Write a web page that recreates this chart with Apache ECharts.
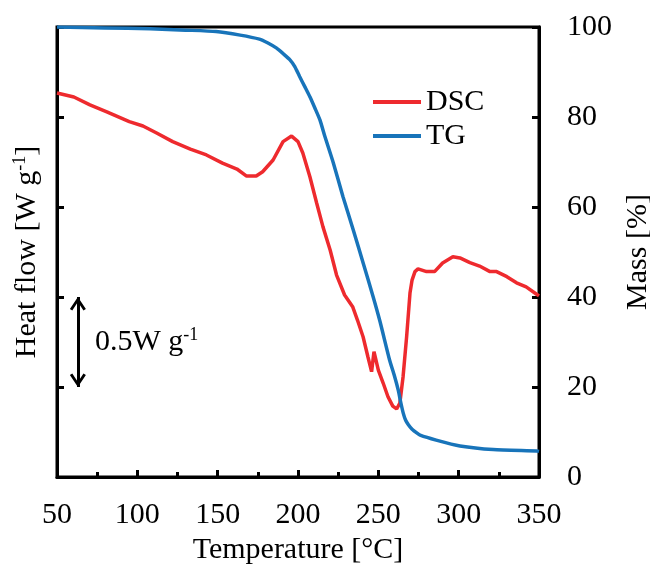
<!DOCTYPE html>
<html>
<head>
<meta charset="utf-8">
<script src="https://cdn.jsdelivr.net/npm/echarts@6/dist/echarts.min.js"></script>
<style>
html,body{margin:0;padding:0;background:#fff;}
#c{width:650px;height:567px;}
</style>
</head>
<body>
<div id="c"></div>
<script>
var dscTemp = [50, 60.5, 70.5, 81, 95, 103.5, 112, 122, 133, 143, 153, 162, 168, 174, 178, 184.5, 190.7, 196, 200, 203, 207.4, 211.6, 215.5, 220, 224, 229, 234, 237, 240.5, 243.5, 245.8, 247.3, 250, 253, 256, 259, 261.4, 263.4, 265.4, 267.6, 269.7, 271, 272.8, 274.7, 280, 285, 290, 296.4, 300.8, 307, 313, 319.5, 323.6, 330, 336, 342, 348.5, 350];
var dscHeat = [2.133, 2.111, 2.067, 2.029, 1.974, 1.950, 1.911, 1.863, 1.822, 1.789, 1.744, 1.711, 1.672, 1.672, 1.696, 1.761, 1.863, 1.894, 1.863, 1.800, 1.668, 1.522, 1.391, 1.261, 1.122, 1.011, 0.946, 0.872, 0.779, 0.668, 0.585, 0.696, 0.594, 0.522, 0.446, 0.394, 0.378, 0.411, 0.557, 0.779, 1.022, 1.094, 1.141, 1.156, 1.141, 1.141, 1.189, 1.224, 1.217, 1.191, 1.172, 1.141, 1.141, 1.113, 1.079, 1.056, 1.015, 1.006];
var tgTemp = [50, 80, 108, 130, 149, 164, 176, 181, 186.7, 190.7, 195, 198, 201, 204.3, 207.4, 210.5, 213.7, 216.8, 222, 228, 234.4, 240.6, 246.8, 251, 257, 260, 262.4, 264, 265.5, 267, 268.7, 271, 273.9, 276, 286, 300.8, 321.5, 348.5, 350];
var tgMass = [100, 99.8, 99.6, 99.3, 99.0, 98.2, 97.3, 96.5, 95.3, 94.1, 92.7, 91.2, 89, 86.7, 84.5, 82, 79.3, 75.6, 69.8, 62.3, 54.9, 47.5, 40, 34.6, 26, 22.5, 19.3, 16.5, 14.2, 12.6, 11.6, 10.6, 9.8, 9.3, 8.2, 6.9, 6.1, 5.8, 5.7];
var xTicks = [50, 100, 150, 200, 250, 300, 350];
var massTicks = [0, 20, 40, 60, 80, 100];
var scaleBar = [1.0, 0.5];
var scaleBarTemp = 63;

var FONT = 'Liberation Serif';
var chart = echarts.init(document.getElementById('c'));
function pairs(xs, ys){ return xs.map(function(x,i){ return [x, ys[i]]; }); }

// open chevron whose tip sits at the centre of its bounding box
var chevron = 'path://M8,-13.6 L8.01,-13.6 L8,-13.6 Z M8,0 L16,12 L13.6,13.6 L8,5 L2.4,13.6 L0,12 Z';

chart.setOption({
  animation: false,
  backgroundColor: '#fff',
  grid: {left: 57, right: 111, top: 27, bottom: 90, outerBoundsMode: 'none', containLabel: false, show: true, borderColor: '#000', borderWidth: 3, backgroundColor: 'transparent'},
  legend: {
    orient: 'vertical', left: 368, top: 82, itemWidth: 48, itemHeight: 4, icon: 'rect', itemGap: 4,
    textStyle: {fontFamily: FONT, fontSize: 30, color: '#000'},
    data: ['DSC', 'TG']
  },
  xAxis: {
    type: 'value', min: xTicks[0], max: xTicks[xTicks.length-1], interval: 50,
    axisLine: {show: true, lineStyle: {color: '#000', width: 3}},
    axisTick: {show: true, inside: true, length: 7, lineStyle: {color: '#000', width: 3}},
    minorTick: {show: true, splitNumber: 2, length: 5, lineStyle: {color: '#000', width: 3}},
    splitLine: {show: false},
    axisLabel: {fontFamily: FONT, fontSize: 30, color: '#000', margin: 23},
    name: 'Temperature [°C]', nameLocation: 'middle', nameGap: 58,
    nameTextStyle: {fontFamily: FONT, fontSize: 30, color: '#000'}
  },
  yAxis: [{
    type: 'value', position: 'left', min: 0, max: 2.5, interval: 0.5,
    axisLine: {show: true, lineStyle: {color: '#000', width: 3}},
    axisTick: {show: true, inside: true, length: 7, lineStyle: {color: '#000', width: 3}},
    splitLine: {show: false},
    axisLabel: {show: false},
    name: '{a|Heat flow [W g}{s|-1}{a|]}', nameLocation: 'middle', nameGap: 14, nameRotate: 90,
    nameTextStyle: {fontFamily: FONT, fontSize: 30, color: '#000',
      rich: {a: {fontFamily: FONT, fontSize: 30, color: '#000'}, s: {fontFamily: FONT, fontSize: 18, color: '#000', padding: [0,0,14,0]}}}
  }, {
    type: 'value', position: 'right', min: 0, max: 100, interval: 20,
    axisLine: {show: true, lineStyle: {color: '#000', width: 3}},
    axisTick: {show: true, inside: true, length: 7, lineStyle: {color: '#000', width: 3}},
    splitLine: {show: false},
    axisLabel: {fontFamily: FONT, fontSize: 30, color: '#000', margin: 28},
    name: 'Mass [%]', nameLocation: 'middle', nameGap: 78, nameRotate: 90,
    nameTextStyle: {fontFamily: FONT, fontSize: 30, color: '#000'}
  }],
  series: [{
    name: 'DSC', type: 'line', yAxisIndex: 0, showSymbol: false, symbol: 'none',
    data: pairs(dscTemp, dscHeat),
    lineStyle: {color: '#EE2A2E', width: 3.5}, itemStyle: {color: '#EE2A2E'},
    markLine: {
      silent: true, symbol: [chevron, chevron], symbolSize: [16, 27.2],
      label: {show: false},
      lineStyle: {color: '#000', width: 3, type: 'solid'},
      data: [[{coord: [scaleBarTemp, scaleBar[0]]}, {coord: [scaleBarTemp, scaleBar[1]]}]]
    }
  }, {
    name: 'TG', type: 'line', yAxisIndex: 1, showSymbol: false, symbol: 'none', smooth: 0.2,
    data: pairs(tgTemp, tgMass),
    lineStyle: {color: '#1874BA', width: 3.5}, itemStyle: {color: '#1874BA'}
  }],
  graphic: [{
    type: 'text', left: 95, top: 326,
    style: {text: '{a|0.5W g}{s|-1}', fill: '#000',
      rich: {a: {fontFamily: FONT, fontSize: 30, fill: '#000'}, s: {fontFamily: FONT, fontSize: 18, fill: '#000', padding: [0,0,14,0]}}}
  }]
});
</script>
</body>
</html>
